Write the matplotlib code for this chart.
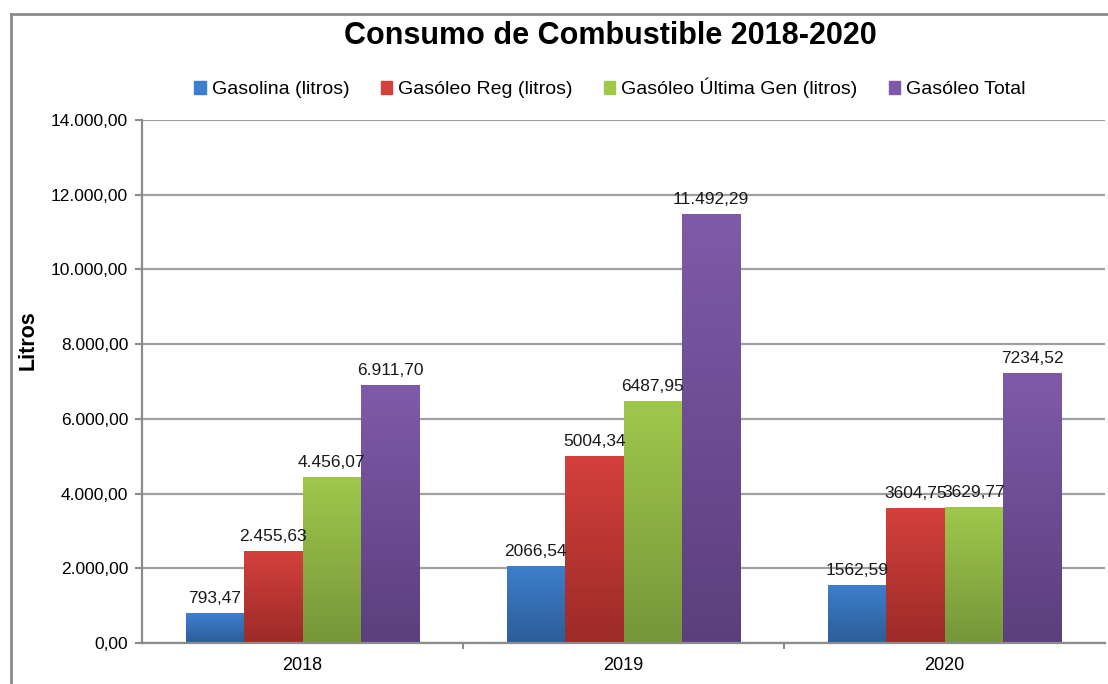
import numpy as np
import matplotlib.pyplot as plt
from matplotlib.colors import LinearSegmentedColormap
from matplotlib.lines import Line2D

plt.rcParams['font.family'] = ['Liberation Sans', 'DejaVu Sans']

years = ['2018', '2019', '2020']
series_names = ['Gasolina (litros)', 'Gasóleo Reg (litros)',
                'Gasóleo Última Gen (litros)', 'Gasóleo Total']

# labels as shown on the bars; numeric values are parsed from them
gasolina_lbl = ['793,47', '2066,54', '1562,59']
reg_lbl = ['2.455,63', '5004,34', '3604,75']
ultima_lbl = ['4.456,07', '6487,95', '3629,77']
total_lbl = ['6.911,70', '11.492,29', '7234,52']

yticks = [0, 2000, 4000, 6000, 8000, 10000, 12000, 14000]

# top / bottom colours of each gradient
grad_colors = [('#3d7fce', '#2c5d97'),
               ('#d4403c', '#9c2b28'),
               ('#9fc84b', '#76963a'),
               ('#7f5aa9', '#5b3f7d')]


def to_num(s):
    return float(s.replace('.', '').replace(',', '.'))


def fmt_es(v):
    s = f'{v:,.2f}'
    return s.replace(',', 'X').replace('.', ',').replace('X', '.')


labels = [gasolina_lbl, reg_lbl, ultima_lbl, total_lbl]
values = [[to_num(s) for s in lbl] for lbl in labels]

fig = plt.figure(figsize=(11.08, 6.84), dpi=100)
ax = fig.add_axes([0.1282, 0.0599, 0.8691, 0.7647])

x = np.arange(len(years))
n = len(series_names)
width = 0.182
grad = np.linspace(1, 0, 256).reshape(-1, 1)

for i in range(n):
    offs = (i - (n - 1) / 2) * width
    top_c, bot_c = grad_colors[i]
    cmap = LinearSegmentedColormap.from_list(f'g{i}', [bot_c, top_c])
    mid = cmap(0.5)
    bars = ax.bar(x + offs, values[i], width, color=mid, label=series_names[i],
                  zorder=2, linewidth=0)
    for b, v, s in zip(bars, values[i], labels[i]):
        im = ax.imshow(grad, cmap=cmap, aspect='auto', zorder=2.5,
                       extent=[b.get_x(), b.get_x() + b.get_width(), 0, v],
                       interpolation='bilinear')
        im.set_clip_path(b)
        ax.annotate(s, (b.get_x() + b.get_width() / 2, v), xytext=(0, 5),
                    textcoords='offset points', ha='center', va='bottom',
                    fontsize=12.5, color='#1a1a1a', zorder=4)

ax.set_xlim(-0.5, len(years) - 0.5)
ax.set_ylim(0, 14000)
ax.set_yticks(yticks)
ax.set_yticklabels([fmt_es(v) for v in yticks], fontsize=12.5)
ax.set_xticks(x)
ax.set_xticklabels(years, fontsize=13)
ax.set_xticks([0.5, 1.5], minor=True)
ax.tick_params(axis='x', which='major', length=0, pad=10)
ax.tick_params(axis='x', which='minor', length=4, color='#8c8c8c', width=1.5)
ax.tick_params(axis='y', length=5, color='#8c8c8c', width=1.5, pad=5)

ax.grid(axis='y', color='#a0a0a0', linewidth=1.6, zorder=0)
ax.set_axisbelow(True)
for side in ['top', 'right']:
    ax.spines[side].set_visible(False)
for side in ['left', 'bottom']:
    ax.spines[side].set_color('#8c8c8c')
    ax.spines[side].set_linewidth(1.6)

ax.set_ylabel('Litros', fontsize=15.5, fontweight='bold')
ax.yaxis.set_label_coords(-0.107, 0.579)

fig.text(0.5505, 1 - 36 / 684, 'Consumo de Combustible 2018-2020',
         ha='center', va='center', fontsize=22, fontweight='bold')

handles = [plt.Rectangle((0, 0), 1, 1, color=c[0]) for c in grad_colors]
fig.legend(handles, series_names, loc='center', bbox_to_anchor=(0.5505, 1 - 88 / 684),
           ncol=4, frameon=False, fontsize=14, handlelength=0.6, handleheight=0.6,
           handletextpad=0.3, columnspacing=1.6)

# outer chart frame
fig.add_artist(Line2D([11 / 1108, 11 / 1108], [0, 1 - 14 / 684],
                      transform=fig.transFigure, color='#8c8c8c', linewidth=2))
fig.add_artist(Line2D([11 / 1108, 1], [1 - 14 / 684, 1 - 14 / 684],
                      transform=fig.transFigure, color='#8c8c8c', linewidth=2))

fig.savefig('out.png', dpi=100)
